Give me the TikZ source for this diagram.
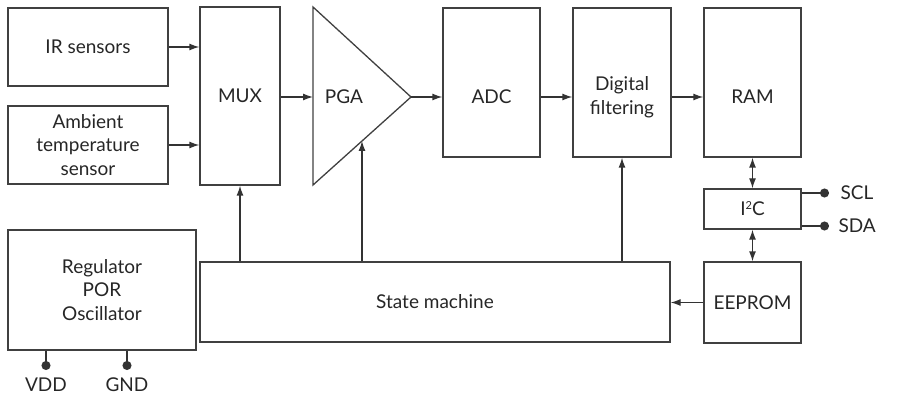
\documentclass[tikz,border=0pt]{standalone}
\usepackage{fontspec}
\setmainfont{Lato}
\usetikzlibrary{arrows.meta,positioning}
\begin{document}
\begin{tikzpicture}[
    x=1pt, y=-1pt,
    every node/.style={font=\fontsize{19}{23.5}\selectfont, text=black!85},
    box/.style={rectangle, draw=black!75, line width=1.3pt, align=center, inner sep=0pt},
    arrow/.style={-{Latex[length=10pt,width=7pt]}, line width=1.3pt, draw=black!80},
    dual/.style={{Latex[length=10pt,width=7pt]}-{Latex[length=10pt,width=7pt]}, line width=1.3pt, draw=black!80},
    pin/.style={-{Circle[length=9pt]}, line width=1.3pt, draw=black!80}
  ]
    \useasboundingbox (0,0) rectangle (900,409);

    \node[box, minimum width=160pt, minimum height=78pt] (ir) at (88,47) {IR sensors};
    \node[box, minimum width=160pt, minimum height=78pt] (amb) at (88,145) {Ambient\\temperature\\sensor};
    \node[box, minimum width=188pt, minimum height=120pt] (reg) at (102,290) {Regulator\\POR\\Oscillator};
    \node[box, minimum width=80pt, minimum height=178pt] (mux) at (240,96) {MUX};

    % amplifier
    \draw[draw=black!75, line width=1.3pt] (313,7) coordinate (pgatop) -- (411,97) coordinate (pgaout)
      -- (313,185) coordinate (pgabot) -- cycle;
    \node (pga) at (344,97) {PGA};
    \coordinate (pgain) at (313,97);
    \coordinate (pgactl) at (362,141);

    \node[box, minimum width=97pt, minimum height=149pt] (adc) at (491.5,82.5) {};
    \node[box, minimum width=98pt, minimum height=149pt] (filt) at (622,82.5) {};
    \node[box, minimum width=97pt, minimum height=149pt] (ram) at (752.5,82.5) {};
    \node[align=center] at ([yshift=-14.5pt]adc.center) {ADC};
    \node[align=center] at ([yshift=-14.5pt]filt.center) {Digital\\filtering};
    \node[align=center] at ([yshift=-14.5pt]ram.center) {RAM};
    \node[box, minimum width=97pt, minimum height=40pt] (i2c) at (752.5,209) {I\raisebox{6pt}{\fontsize{11}{11}\selectfont 2}C};
    \node[box, minimum width=97pt, minimum height=81pt] (eep) at (752.5,302.5) {EEPROM};
    \node[box, minimum width=470pt, minimum height=80pt] (state) at (435,302) {State machine};

    \coordinate (scl) at (829,193);
    \coordinate (sda) at (829,226);
    \coordinate (vdd) at (46,370);
    \coordinate (gnd) at (127,370);
    \node[right=8pt of scl] {SCL};
    \node[right=6pt of sda] {SDA};
    \node[below=4pt of vdd] {VDD};
    \node[below=4pt of gnd] {GND};

    \draw[arrow] (ir.east) -- (ir.east -| mux.west);
    \draw[arrow] (amb.east) -- (amb.east -| mux.west);
    \draw[arrow] (mux.east |- pgain) -- (pgain);
    \draw[arrow] (pgaout) -- (pgaout -| adc.west);
    \draw[arrow] (adc.east |- pgaout) -- (pgaout -| filt.west);
    \draw[arrow] (filt.east |- pgaout) -- (pgaout -| ram.west);

    \draw[arrow] (state.north -| mux) -- (mux.south);
    \draw[arrow] (state.north -| pgactl) -- (pgactl);
    \draw[arrow] (state.north -| 622,0) -- (filt.south -| 622,0);
    \draw[arrow] (eep.west) -- (eep.west -| state.east);

    \draw[dual] (ram.south) -- (i2c.north);
    \draw[dual] (i2c.south) -- (eep.north);

    \draw[pin] (i2c.east |- scl) -- (scl);
    \draw[pin] (i2c.east |- sda) -- (sda);
    \draw[pin] (reg.south -| vdd) -- (vdd);
    \draw[pin] (reg.south -| gnd) -- (gnd);
  \end{tikzpicture}
\end{document}
